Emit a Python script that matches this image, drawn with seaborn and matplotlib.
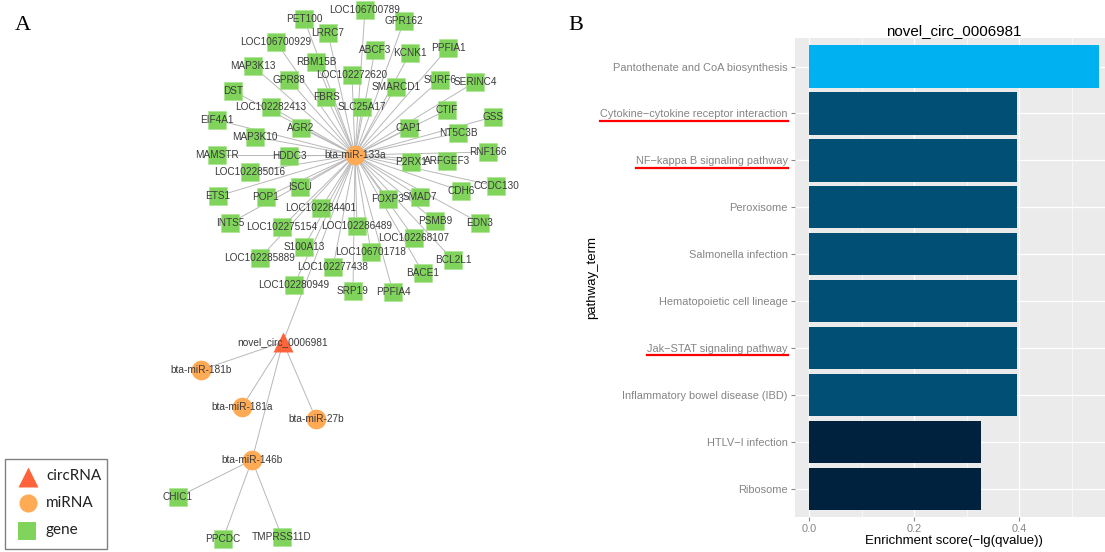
import pandas as pd
import seaborn as sns
import matplotlib.pyplot as plt
from matplotlib.collections import LineCollection
from matplotlib.lines import Line2D
from matplotlib.patches import Rectangle

# ---------------- data: panel A (network) ----------------
circ_name = 'novel_circ_0006981'
mirna_names = ['bta-miR-133a', 'bta-miR-181b', 'bta-miR-181a', 'bta-miR-27b', 'bta-miR-146b']
genes_133a = ['PET100', 'LOC106700929', 'LRRC7', 'ABCF3', 'MAP3K13', 'RBM15B', 'LOC102272620',
              'GPR88', 'DST', 'FBRS', 'SLC25A17', 'LOC102282413', 'EIF4A1', 'AGR2', 'MAP3K10',
              'MAMSTR', 'HDDC3', 'LOC106700789', 'GPR162', 'PPFIA1', 'KCNK1', 'SMARCD1', 'SURF6',
              'SERINC4', 'CTIF', 'GSS', 'CAP1', 'NT5C3B', 'RNF166', 'LOC102285016', 'ISCU', 'ETS1',
              'POP1', 'LOC102284401', 'INTS5', 'LOC102275154', 'LOC102286489', 'S100A13',
              'LOC102285889', 'LOC102277438', 'LOC102280949', 'SRP19', 'P2RX1', 'ARFGEF3', 'CDH6',
              'CCDC130', 'FOXP3', 'SMAD7', 'PSMB9', 'EDN3', 'LOC102268107', 'LOC106701718',
              'BCL2L1', 'BACE1', 'PPFIA4']
genes_146b = ['CHIC1', 'PPCDC', 'TMPRSS11D']

# layout of the network (canvas pixel coordinates)
circ_x, circ_y = 283, 342
mirna_x = [355, 201, 242, 316, 252]
mirna_y = [155, 370, 407, 419, 460]
genes_133a_x = [304, 276, 328, 375, 253, 316, 352, 289, 233, 326, 362, 271, 217, 301, 255,
                217, 289, 365, 404, 448, 410, 396, 440, 475, 447, 493, 409, 458, 488, 250,
                300, 218, 266, 321, 230, 282, 357, 304, 260, 333, 294, 353, 411, 447, 461,
                496, 388, 420, 435, 480, 414, 371, 453, 423, 393]
genes_133a_y = [19, 42, 33, 50, 66, 62, 75, 80, 91, 97, 107, 107, 120, 128, 137,
                155, 156, 10, 21, 48, 53, 87, 80, 82, 110, 117, 128, 133, 152, 172,
                187, 196, 197, 208, 223, 227, 226, 247, 258, 267, 285, 291, 162, 161, 191,
                186, 199, 197, 221, 223, 238, 252, 260, 273, 292]
genes_146b_x = [178, 223, 282]
genes_146b_y = [497, 539, 537]

# ---------------- data: panel B (KEGG enrichment) ----------------
pathway_terms = ['Pantothenate and CoA biosynthesis',
                 'Cytokine\u2212cytokine receptor interaction',
                 'NF\u2212kappa B signaling pathway',
                 'Peroxisome',
                 'Salmonella infection',
                 'Hematopoietic cell lineage',
                 'Jak\u2212STAT signaling pathway',
                 'Inflammatory bowel disease (IBD)',
                 'HTLV\u2212I infection',
                 'Ribosome']
enrichment = [0.551, 0.396, 0.396, 0.396, 0.396, 0.396, 0.396, 0.396, 0.327, 0.327]
highlighted = ['Cytokine\u2212cytokine receptor interaction',
               'NF\u2212kappa B signaling pathway',
               'Jak\u2212STAT signaling pathway']
level_colors = {0.551: '#00B1F1', 0.396: '#014F74', 0.327: '#01223F'}

W, H = 1105, 552
fig = plt.figure(figsize=(W / 100, H / 100), dpi=100)

# ---------------- panel A ----------------
ax = fig.add_axes([0, 0, 1, 1])

hub_x, hub_y = mirna_x[0], mirna_y[0]
segs = [[(hub_x, hub_y), (gx, gy)] for gx, gy in zip(genes_133a_x, genes_133a_y)]
segs += [[(circ_x, circ_y), (mx, my)] for mx, my in zip(mirna_x, mirna_y)]
segs += [[(mirna_x[4], mirna_y[4]), (gx, gy)] for gx, gy in zip(genes_146b_x, genes_146b_y)]
ax.add_collection(LineCollection(segs, colors='#B8B8B8', linewidths=0.7, zorder=1))

gene_df = pd.DataFrame({'name': genes_133a + genes_146b,
                        'x': genes_133a_x + genes_146b_x,
                        'y': genes_133a_y + genes_146b_y})
mir_df = pd.DataFrame({'name': mirna_names, 'x': mirna_x, 'y': mirna_y})

sns.scatterplot(data=gene_df, x='x', y='y', marker='s', s=187, color='#80D45C',
                linewidth=0.4, edgecolor='#A6E38A', ax=ax, zorder=2)
sns.scatterplot(data=mir_df, x='x', y='y', marker='o', s=200, color='#FFAA55',
                linewidth=0, ax=ax, zorder=2)
ax.scatter([circ_x], [circ_y], marker='^', s=207, color='#FF633A', linewidth=0, zorder=2)
ax.set_xlim(0, W)
ax.set_ylim(H, 0)
ax.axis('off')

lab_font = ['Liberation Sans Narrow', 'Liberation Sans']
for _, r in gene_df.iterrows():
    ax.text(r.x, r.y, r['name'], fontsize=7.2, family=lab_font, color='#3A3A3A',
            ha='center', va='center', zorder=3)
for _, r in mir_df.iterrows():
    ax.text(r.x, r.y, r['name'], fontsize=7.3, family=lab_font, color='#3A3A3A',
            ha='center', va='center', zorder=3)
ax.text(circ_x, circ_y, circ_name, fontsize=7.3, family=lab_font, color='#3A3A3A',
        ha='center', va='center', zorder=3)

# legend box
ax.add_patch(Rectangle((5, 459), 102, 90, fill=False, edgecolor='#808080', lw=1, zorder=2))
ax.scatter([28], [477], marker='^', s=207, color='#FF633A', linewidth=0, zorder=3)
ax.scatter([28], [503], marker='o', s=170, color='#FFAA55', linewidth=0, zorder=3)
ax.scatter([27], [531], marker='s', s=170, color='#80D45C', linewidth=0, zorder=3)
for ty, txt in zip([476, 503, 530], ['circRNA', 'miRNA', 'gene']):
    ax.text(46, ty, txt, fontsize=11, family=['Lato', 'DejaVu Sans'], color='#222222',
            ha='left', va='center')

fig.text(23 / W, 1 - 25 / H, 'A', fontsize=16, family='Liberation Serif', ha='center', va='center')
fig.text(576 / W, 1 - 25 / H, 'B', fontsize=16, family='Liberation Serif', ha='center', va='center')

# ---------------- panel B ----------------
axB = fig.add_axes([795 / W, 1 - 517 / H, 318 / W, (517 - 38.4) / H])
df = pd.DataFrame({'term': pathway_terms, 'score': enrichment})
pal = {t: level_colors[v] for t, v in zip(pathway_terms, enrichment)}
sns.barplot(data=df, x='score', y='term', hue='term', palette=pal, width=0.9,
            saturation=1, legend=False, linewidth=0, ax=axB)

axB.set_facecolor('#EBEBEB')
for s in axB.spines.values():
    s.set_visible(False)
axB.set_xlim(-0.0272, 0.5786)
axB.set_ylim(9.6, -0.6)
axB.set_xticks([0.0, 0.2, 0.4])
axB.set_xticklabels(['0.0', '0.2', '0.4'])
axB.set_xticks([0.1, 0.3, 0.5], minor=True)
axB.set_axisbelow(True)
axB.grid(which='major', color='white', lw=0.9)
axB.grid(which='minor', axis='x', color='white', lw=0.45)
axB.tick_params(which='minor', length=0)
axB.tick_params(which='major', length=3, width=0.8, color='#8A8A8A', labelcolor='#858585',
                labelsize=7.9, pad=2.3)
for lab in axB.get_xticklabels() + axB.get_yticklabels():
    lab.set_family('Liberation Sans')

axB.set_title('novel_circ_0006981', fontsize=10.9, family='Liberation Sans', pad=2.2)
axB.set_ylabel('pathway_term', fontsize=9.5, family='Liberation Sans')
axB.set_xlabel('Enrichment score(\u2212lg(qvalue))', fontsize=9.5, family='Liberation Sans')
axB.yaxis.set_label_coords(-0.618, 0.5)
axB.xaxis.set_label_coords(0.5, -0.037)

# red underlines under the highlighted pathways
fig.canvas.draw()
for lab in axB.get_yticklabels():
    if lab.get_text() in highlighted:
        bb = lab.get_window_extent()
        y = (bb.y0 - 1.3) / H
        fig.add_artist(Line2D([bb.x0 / W, bb.x1 / W], [y, y], color='#FF0000', lw=1.6))

fig.savefig('out.png', dpi=100)
